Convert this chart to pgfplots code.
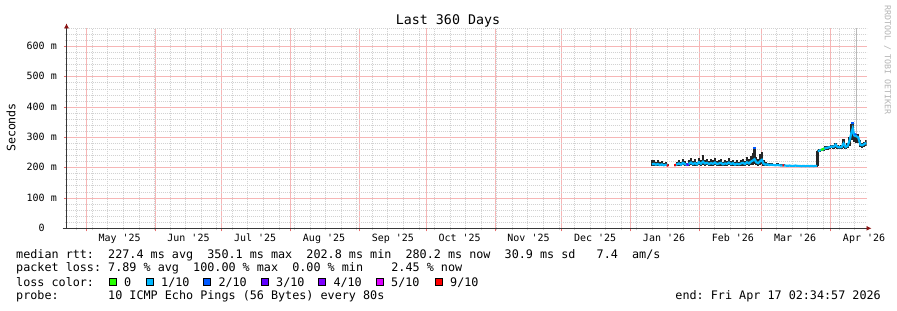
\documentclass[border=0pt]{standalone}
\usepackage{pgfplots}
\pgfplotsset{compat=1.18}
\usepackage{pgfplotstable}
\usepackage{fontspec}
\setmonofont{DejaVu Sans Mono}
\usetikzlibrary{arrows.meta}
\definecolor{axiscol}{RGB}{55,55,55}
\definecolor{arrowcol}{RGB}{140,20,20}
\definecolor{mgrid}{RGB}{246,182,182}
\definecolor{mtick}{RGB}{230,110,110}
\definecolor{gridc}{RGB}{210,210,210}
\definecolor{smokecol}{RGB}{38,38,38}
\definecolor{lightsmoke}{RGB}{185,185,185}
\definecolor{l0}{HTML}{26FF00}
\definecolor{l1}{HTML}{00B8FF}
\definecolor{l2}{HTML}{0059FF}
\definecolor{l3}{HTML}{5E00FF}
\definecolor{l4}{HTML}{7E00FF}
\definecolor{l5}{HTML}{DD00FF}
\definecolor{l9}{HTML}{FF0000}
\definecolor{rrdgray}{RGB}{180,180,180}

\pgfplotstableread{
d med lo hi
263.5 211 205 224
264.3 213 206 226
265.2 210 205 220
266.1 212 206 224
267.0 209 204 218
267.9 211 205 222
268.8 208 204 216
269.7 210 205 219
270.7 207 204 212
272.0 nan nan nan
273.8 208 205 212
274.7 211 206 218
275.6 214 207 224
276.5 210 205 220
277.4 216 208 228
278.3 212 206 222
279.2 209 205 216
280.1 213 206 224
281.0 217 208 231
281.9 212 206 222
282.8 215 207 228
283.7 211 206 220
284.6 218 208 233
285.5 213 206 226
286.4 220 209 242
287.3 214 207 226
288.2 216 208 230
289.1 212 206 222
290.0 215 207 228
290.9 213 206 224
291.8 217 208 232
292.7 212 206 221
293.6 214 207 226
294.5 216 207 229
295.4 211 205 220
296.3 214 206 225
297.2 213 206 223
298.1 217 208 231
299.0 212 206 222
299.9 215 207 227
300.8 210 205 219
301.7 213 206 224
302.6 211 205 220
303.5 214 206 226
304.4 216 207 230
305.3 212 206 222
306.2 218 208 235
307.1 214 207 228
308.0 220 209 238
308.9 224 210 250
309.6 228 212 267
310.4 218 208 236
311.3 215 207 228
312.2 222 210 245
312.9 226 212 252
313.6 214 207 226
314.5 210 205 218
315.4 211 206 216
316.3 209 205 214
317.2 210 206 215
318.1 209 205 213
319.0 208 205 212
319.9 209 205 214
320.8 208 204 212
321.7 207 204 211
322.6 208 204 213
323.5 207 204 210
324.4 206 204 209
325.3 207 204 210
326.2 206 203 209
327.1 206 203 209
328.0 207 204 210
328.9 206 203 209
329.8 206 203 208
330.7 205 203 208
331.6 206 203 209
332.5 205 203 208
333.4 206 203 209
334.3 205 203 208
335.2 206 203 208
336.1 205 203 208
337.0 206 203 209
337.8 206 203 210
337.95 nan 206 256
338.1 254 250 258
338.9 257 253 262
339.8 259 255 263
340.7 261 256 265
341.6 265 259 270
342.5 266 260 271
343.4 268 262 273
344.3 270 264 275
345.2 269 263 274
346.1 276 266 282
347.0 268 262 274
347.9 267 262 272
348.8 268 262 274
349.7 280 266 294
350.6 268 262 275
351.5 272 264 280
352.4 290 272 300
353.3 318 290 345
353.8 330 300 351
354.5 306 285 315
355.4 304 283 312
356.3 300 280 310
357.2 276 268 290
358.1 274 266 282
359.0 278 268 285
359.8 282 270 290
}\rtt

\begin{document}
\begin{tikzpicture}[x=1bp,y=1bp,font=\ttfamily\frenchspacing]
\useasboundingbox[fill=white] (0,0) rectangle (897,310);
\begin{axis}[
  at={(66.5bp,81.7bp)}, anchor=south west,
  width=800bp, height=200bp, scale only axis,
  xmin=0, xmax=360, ymin=0, ymax=660,
  axis x line=bottom, axis y line=left,
  axis line style={draw=axiscol, line width=0.9bp},
  x axis line style={-{Latex[length=5bp,width=5bp,color=arrowcol]}, shorten >=-5bp, shorten <=-4bp},
  y axis line style={-{Latex[length=5bp,width=5bp,color=arrowcol]}, shorten >=-5bp},
  xtick={8.893,39.893,69.893,100.893,131.893,161.893,192.893,222.893,253.893,284.893,312.893,343.893},
  xticklabels={},
  minor xtick={4.6,11.6,...,360},
  extra x ticks={23.893,54.893,84.893,115.893,146.893,176.893,207.893,237.893,268.893,299.893,327.893,358.893},
  extra x tick labels={May '25,Jun '25,Jul '25,Aug '25,Sep '25,Oct '25,Nov '25,Dec '25,Jan '26,Feb '26,Mar '26,Apr '26},
  extra x tick style={grid=none, major tick length=0pt},
  ytick={0,100,...,600},
  yticklabels={0\phantom{ m},100 m,200 m,300 m,400 m,500 m,600 m},
  minor ytick={20,40,60,80,120,140,160,180,220,240,260,280,320,340,360,380,420,440,460,480,520,540,560,580,620,640,660},
  grid=both,
  major grid style={draw=mgrid, line width=1bp},
  minor grid style={draw=gridc, dash pattern=on 1bp off 1bp, line width=0.8bp},
  tick align=outside,
  major tick length=3bp, minor tick length=2bp,
  every major tick/.append style={draw=mtick, line width=0.8bp},
  every minor tick/.append style={draw=gridc, line width=0.8bp},
  xticklabel style={font=\ttfamily\fontsize{10bp}{12bp}\selectfont, anchor=base, yshift=-13.2bp},
  yticklabel style={font=\ttfamily\fontsize{10bp}{12bp}\selectfont, anchor=base east, inner sep=0pt, xshift=-6.5bp, yshift=-3bp},
  unbounded coords=jump,
]
% extreme ping
\addplot[lightsmoke, line width=1bp] coordinates {(355.3,312) (355.3,660)};
% smoke
\addplot[smokecol, draw opacity=0, mark=none,
  error bars/.cd, y dir=plus, y explicit, error mark=none,
  error bar style={line width=2.3bp, draw=smokecol, draw opacity=1}]
  table[x=d, y=lo, y error plus expr=\thisrow{hi}-\thisrow{lo}] {\rtt};
% median
\addplot[l1, line width=2.2bp, mark=none] table[x=d, y=med] {\rtt};
% loss colored pieces
\addplot[l9, line width=2.2bp] coordinates {(270.1,207.5) (270.9,207)};
\addplot[l9, line width=2.2bp] coordinates {(273.5,208) (274.3,209)};
\addplot[l3, line width=2.2bp] coordinates {(279.0,209) (279.9,211)};
\addplot[l9, line width=2.2bp] coordinates {(322.2,208) (322.9,207.5)};
\addplot[l0, line width=2.2bp] coordinates {(339.5,258.5) (341.0,263)};
\addplot[l2, line width=2.2bp] coordinates {(309.6,261) (309.6,267)};
\addplot[l2, line width=2.2bp] coordinates {(353.7,345) (353.7,351)};
\addplot[l2, line width=2.2bp] coordinates {(354.9,308) (355.2,313)};
\end{axis}
% title and labels
\node[anchor=base, inner sep=0pt, font=\ttfamily\fontsize{13.3bp}{15bp}\selectfont] at (448,286) {Last 360 Days};
\node[rotate=90, inner sep=0pt, font=\ttfamily\fontsize{11.6bp}{14bp}\selectfont] at (11,182.5) {Seconds};
\node[rotate=-90, inner sep=0pt, text=rrdgray, font=\ttfamily\fontsize{8.3bp}{10bp}\selectfont] at (887.5,250) {RRDTOOL / TOBI OETIKER};
% legend
\begin{scope}[every node/.style={anchor=base west, inner sep=0pt, font=\ttfamily\frenchspacing\fontsize{11.76bp}{14bp}\selectfont}]
\node at (16,51.5) {median rtt:\ \ 227.4 ms avg\ \ 350.1 ms max\ \ 202.8 ms min\ \ 280.2 ms now\ \ 30.9 ms sd\ \ \ 7.4\ \ am/s};
\node at (16,38.3) {packet loss: 7.89 \% avg\ \ 100.00 \% max\ \ 0.00 \% min\ \ \ \ 2.45 \% now};
\node at (16,24) {loss color:};
\node at (16,10.7) {probe:\ \ \ \ \ \ \ 10 ICMP Echo Pings (56 Bytes) every 80s};
\node[anchor=base east] at (881,10.7) {end: Fri Apr 17 02:34:57 2026};
\foreach \bx/\c/\t in {109/l0/0, 146/l1/1\slash 10, 203.3/l2/2\slash 10, 261/l3/3\slash 10, 318.3/l4/4\slash 10, 376/l5/5\slash 10, 435/l9/9\slash 10}{
  \draw[fill=\c, draw=black, line width=0.7bp] (\bx,24.3) rectangle ++(7.5,7.5);
  \node at (\bx+15,24) {\t};
}
\end{scope}
\end{tikzpicture}
\end{document}
